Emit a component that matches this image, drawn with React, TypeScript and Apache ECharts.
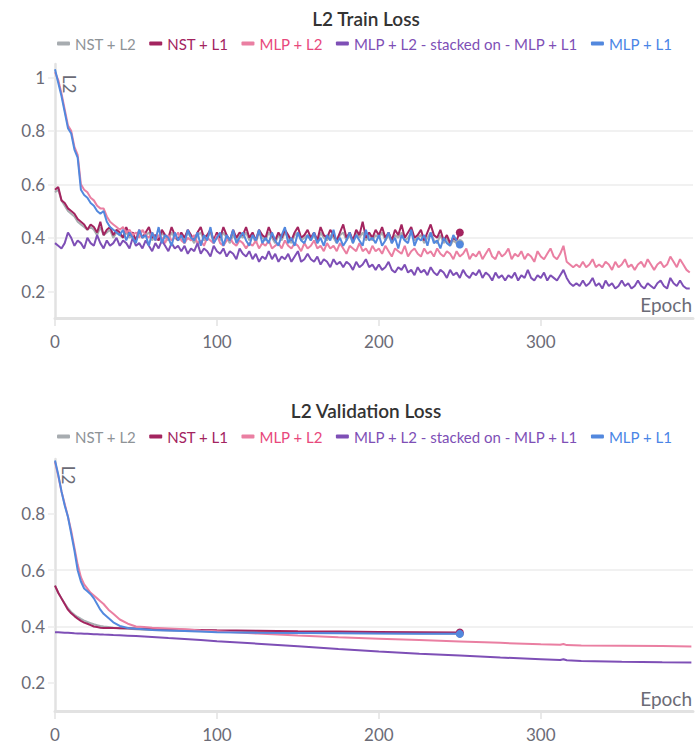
import React, { useEffect, useRef } from "react";
import * as echarts from "echarts";

// ---------- names & colours ----------
const SERIES_NAMES = [
  "NST + L2",
  "NST + L1",
  "MLP + L2",
  "MLP + L2 - stacked on - MLP + L1",
  "MLP + L1",
];
const LINE_COLORS = ["#a7acb0", "#a3245f", "#ea7fa2", "#7e4fb6", "#5288de"];
const TEXT_COLORS = ["#8e9397", "#a3245f", "#e8487c", "#7e4fb6", "#4a85e6"];

const TITLES = ["L2 Train Loss", "L2 Validation Loss"];
const X_TICKS = [0, 100, 200, 300];
const TRAIN_Y_TICKS = [0.2, 0.4, 0.6, 0.8, 1];
const VAL_Y_TICKS = [0.2, 0.4, 0.6, 0.8];
const X_NAME = "Epoch";
const Y_NAME = "L2";

// ---------- train loss (one value every 2 epochs) ----------
const TRAIN_STEP = 2;

const TRAIN_NST_L2 = [
  0.57, 0.58, 0.54, 0.52, 0.50, 0.49, 0.48, 0.46, 0.45, 0.44, 0.43, 0.44, 0.43, 0.41, 0.44, 0.41, 0.42, 0.43, 0.40, 0.42,
  0.41, 0.40, 0.42, 0.40, 0.41, 0.39, 0.42, 0.40, 0.41, 0.42, 0.39, 0.41, 0.39, 0.42, 0.40, 0.39, 0.42, 0.40, 0.39, 0.41,
  0.39, 0.42, 0.40, 0.38, 0.41, 0.42, 0.39, 0.40, 0.42, 0.38, 0.41, 0.39, 0.42, 0.40, 0.38, 0.41, 0.39, 0.41, 0.40, 0.42,
  0.39, 0.41, 0.38, 0.42, 0.40, 0.39, 0.42, 0.40, 0.38, 0.41, 0.39, 0.42, 0.40, 0.38, 0.41, 0.42, 0.39, 0.40, 0.41, 0.39,
  0.41, 0.38, 0.42, 0.40, 0.39, 0.41, 0.40, 0.38, 0.41, 0.42, 0.39, 0.41, 0.38, 0.42, 0.40, 0.42, 0.39, 0.41, 0.39, 0.41,
  0.40, 0.42, 0.39, 0.41, 0.38, 0.41, 0.40, 0.42, 0.39, 0.40, 0.42, 0.39, 0.40, 0.41, 0.38, 0.40, 0.42, 0.39, 0.38, 0.41,
  0.38, 0.40, 0.37, 0.39, 0.38, 0.38,
];

const TRAIN_NST_L1 = [
  0.58, 0.59, 0.54, 0.53, 0.51, 0.50, 0.49, 0.47, 0.46, 0.45, 0.43, 0.45, 0.44, 0.42, 0.46, 0.41, 0.43, 0.44, 0.41, 0.43,
  0.42, 0.40, 0.44, 0.41, 0.42, 0.39, 0.43, 0.40, 0.42, 0.44, 0.40, 0.41, 0.39, 0.43, 0.41, 0.40, 0.44, 0.41, 0.39, 0.42,
  0.40, 0.43, 0.41, 0.39, 0.42, 0.44, 0.40, 0.41, 0.43, 0.39, 0.42, 0.40, 0.44, 0.41, 0.39, 0.43, 0.40, 0.42, 0.41, 0.44,
  0.40, 0.42, 0.39, 0.43, 0.41, 0.40, 0.44, 0.41, 0.39, 0.42, 0.40, 0.43, 0.41, 0.39, 0.42, 0.44, 0.40, 0.41, 0.43, 0.40,
  0.42, 0.39, 0.44, 0.41, 0.40, 0.43, 0.41, 0.39, 0.42, 0.45, 0.40, 0.42, 0.39, 0.43, 0.41, 0.46, 0.40, 0.42, 0.40, 0.43,
  0.41, 0.44, 0.40, 0.42, 0.39, 0.43, 0.41, 0.45, 0.40, 0.42, 0.44, 0.40, 0.41, 0.43, 0.39, 0.42, 0.45, 0.41, 0.40, 0.43,
  0.39, 0.41, 0.38, 0.40, 0.39, 0.42,
];

const TRAIN_MLP_L2 = [
  1.02, 0.99, 0.94, 0.88, 0.82, 0.80, 0.74, 0.71, 0.60, 0.58, 0.57, 0.55, 0.54, 0.52, 0.51, 0.51, 0.48, 0.46, 0.45, 0.44,
  0.43, 0.44, 0.42, 0.43, 0.41, 0.42, 0.40, 0.43, 0.41, 0.40, 0.42, 0.39, 0.41, 0.40, 0.38, 0.41, 0.39, 0.40, 0.42, 0.39,
  0.38, 0.40, 0.39, 0.41, 0.38, 0.39, 0.37, 0.40, 0.39, 0.38, 0.41, 0.38, 0.37, 0.39, 0.40, 0.38, 0.37, 0.39, 0.38, 0.36,
  0.38, 0.37, 0.39, 0.36, 0.38, 0.37, 0.39, 0.36, 0.37, 0.38, 0.36, 0.39, 0.37, 0.36, 0.38, 0.37, 0.35, 0.38, 0.36, 0.37,
  0.39, 0.36, 0.37, 0.35, 0.38, 0.36, 0.37, 0.35, 0.38, 0.36, 0.34, 0.37, 0.36, 0.35, 0.38, 0.35, 0.36, 0.34, 0.37, 0.35,
  0.36, 0.34, 0.37, 0.35, 0.33, 0.36, 0.35, 0.34, 0.37, 0.33, 0.35, 0.36, 0.34, 0.33, 0.36, 0.34, 0.35, 0.33, 0.36, 0.34,
  0.33, 0.35, 0.34, 0.32, 0.35, 0.33, 0.34, 0.36, 0.32, 0.34, 0.33, 0.35, 0.32, 0.34, 0.36, 0.33, 0.32, 0.35, 0.33, 0.34,
  0.36, 0.32, 0.34, 0.33, 0.35, 0.32, 0.34, 0.33, 0.31, 0.35, 0.33, 0.32, 0.34, 0.36, 0.33, 0.32, 0.34, 0.37, 0.31, 0.30,
  0.29, 0.30, 0.29, 0.31, 0.29, 0.30, 0.32, 0.29, 0.30, 0.29, 0.31, 0.30, 0.28, 0.31, 0.29, 0.30, 0.32, 0.29, 0.30, 0.28,
  0.30, 0.31, 0.29, 0.32, 0.30, 0.28, 0.30, 0.31, 0.29, 0.30, 0.33, 0.31, 0.29, 0.32, 0.30, 0.28, 0.27,
];

const TRAIN_STACKED = [
  0.38, 0.37, 0.36, 0.38, 0.42, 0.40, 0.37, 0.39, 0.38, 0.36, 0.40, 0.38, 0.37, 0.41, 0.38, 0.36, 0.39, 0.37, 0.38, 0.40,
  0.37, 0.39, 0.38, 0.36, 0.40, 0.37, 0.38, 0.36, 0.39, 0.37, 0.35, 0.38, 0.36, 0.39, 0.37, 0.35, 0.38, 0.36, 0.37, 0.35,
  0.37, 0.34, 0.36, 0.35, 0.38, 0.34, 0.36, 0.35, 0.33, 0.37, 0.35, 0.34, 0.36, 0.33, 0.35, 0.34, 0.32, 0.36, 0.34, 0.33,
  0.35, 0.32, 0.34, 0.31, 0.33, 0.32, 0.35, 0.32, 0.34, 0.31, 0.33, 0.32, 0.34, 0.31, 0.33, 0.35, 0.31, 0.32, 0.34, 0.32,
  0.31, 0.33, 0.30, 0.32, 0.31, 0.29, 0.32, 0.30, 0.31, 0.29, 0.31, 0.30, 0.28, 0.31, 0.29, 0.30, 0.32, 0.29, 0.30, 0.28,
  0.30, 0.28, 0.29, 0.31, 0.28, 0.27, 0.29, 0.28, 0.30, 0.27, 0.28, 0.26, 0.29, 0.27, 0.28, 0.26, 0.29, 0.27, 0.26, 0.28,
  0.27, 0.25, 0.28, 0.26, 0.27, 0.25, 0.28, 0.26, 0.25, 0.27, 0.26, 0.28, 0.25, 0.27, 0.26, 0.24, 0.27, 0.25, 0.26, 0.24,
  0.26, 0.25, 0.27, 0.24, 0.26, 0.25, 0.28, 0.25, 0.24, 0.26, 0.25, 0.27, 0.24, 0.26, 0.25, 0.24, 0.26, 0.28, 0.25, 0.23,
  0.22, 0.23, 0.22, 0.24, 0.22, 0.23, 0.25, 0.22, 0.23, 0.21, 0.24, 0.22, 0.23, 0.21, 0.22, 0.24, 0.22, 0.23, 0.21, 0.22,
  0.24, 0.22, 0.21, 0.23, 0.22, 0.21, 0.23, 0.24, 0.22, 0.21, 0.25, 0.23, 0.22, 0.24, 0.22, 0.21, 0.21,
];

const TRAIN_MLP_L1 = [
  1.03, 0.98, 0.93, 0.87, 0.81, 0.79, 0.73, 0.70, 0.58, 0.56, 0.55, 0.53, 0.52, 0.50, 0.49, 0.50, 0.46, 0.44, 0.43, 0.42,
  0.41, 0.43, 0.39, 0.42, 0.40, 0.38, 0.43, 0.40, 0.41, 0.37, 0.42, 0.39, 0.44, 0.38, 0.41, 0.40, 0.37, 0.42, 0.39, 0.41,
  0.38, 0.43, 0.40, 0.39, 0.42, 0.37, 0.41, 0.39, 0.44, 0.38, 0.40, 0.42, 0.37, 0.41, 0.39, 0.43, 0.38, 0.40, 0.42, 0.39,
  0.37, 0.41, 0.39, 0.43, 0.38, 0.40, 0.38, 0.42, 0.39, 0.37, 0.41, 0.44, 0.38, 0.40, 0.37, 0.42, 0.39, 0.38, 0.41, 0.39,
  0.42, 0.38, 0.40, 0.37, 0.41, 0.39, 0.43, 0.38, 0.40, 0.37, 0.39, 0.42, 0.38, 0.41, 0.39, 0.37, 0.43, 0.39, 0.40, 0.38,
  0.41, 0.37, 0.39, 0.42, 0.38, 0.40, 0.36, 0.41, 0.39, 0.38, 0.43, 0.37, 0.40, 0.39, 0.41, 0.37, 0.42, 0.38, 0.39, 0.36,
  0.40, 0.38, 0.37, 0.41, 0.39, 0.375,
];

// ---------- validation loss ----------
const VAL_EPOCHS_SHORT = [
  0, 2, 4, 6, 8, 10, 12, 14, 16, 18, 20, 22, 24, 26, 28, 30, 33, 36, 40, 45, 50, 55, 60, 70, 80, 90, 100, 125, 150, 175,
  200, 225, 250,
];
const VAL_EPOCHS_LONG = [
  0, 2, 4, 6, 8, 10, 12, 14, 16, 18, 20, 22, 24, 26, 28, 30, 33, 36, 40, 45, 50, 55, 60, 70, 80, 90, 100, 125, 150, 175,
  200, 225, 250, 275, 300, 312, 314, 316, 325, 350, 375, 393,
];

const VAL_NST_L2 = [
  0.545, 0.52, 0.5, 0.482, 0.465, 0.452, 0.442, 0.434, 0.427, 0.421, 0.416, 0.412, 0.408, 0.405, 0.402, 0.4, 0.398,
  0.396, 0.394, 0.392, 0.39, 0.389, 0.388, 0.386, 0.384, 0.383, 0.382, 0.38, 0.378, 0.377, 0.376, 0.375, 0.374,
];
const VAL_NST_L1 = [
  0.545, 0.52, 0.5, 0.48, 0.46, 0.447, 0.437, 0.428, 0.42, 0.414, 0.41, 0.405, 0.4, 0.398, 0.396, 0.395, 0.395, 0.395,
  0.394, 0.394, 0.393, 0.392, 0.392, 0.39, 0.389, 0.388, 0.387, 0.385, 0.383, 0.382, 0.381, 0.38, 0.379,
];
const VAL_MLP_L2 = [
  0.985, 0.935, 0.88, 0.835, 0.79, 0.74, 0.68, 0.62, 0.575, 0.55, 0.535, 0.52, 0.51, 0.5, 0.49, 0.48, 0.46, 0.445,
  0.425, 0.41, 0.4, 0.398, 0.396, 0.393, 0.39, 0.386, 0.383, 0.375, 0.368, 0.362, 0.357, 0.352, 0.347, 0.342, 0.337,
  0.335, 0.338, 0.334, 0.333, 0.332, 0.331, 0.329,
];
const VAL_STACKED = [
  0.38, 0.3795, 0.379, 0.378, 0.3775, 0.377, 0.376, 0.3755, 0.375, 0.3745, 0.374, 0.3735, 0.373, 0.3725, 0.372, 0.3715,
  0.371, 0.37, 0.369, 0.3675, 0.366, 0.3645, 0.363, 0.359, 0.356, 0.352, 0.348, 0.339, 0.33, 0.32, 0.311, 0.303, 0.297,
  0.29, 0.284, 0.281, 0.284, 0.28, 0.278, 0.275, 0.273, 0.272,
];
const VAL_MLP_L1 = [
  0.99, 0.94, 0.88, 0.83, 0.79, 0.73, 0.67, 0.6, 0.56, 0.535, 0.525, 0.515, 0.5, 0.48, 0.46, 0.445, 0.43, 0.415, 0.402,
  0.395, 0.392, 0.39, 0.388, 0.386, 0.384, 0.382, 0.38, 0.378, 0.377, 0.376, 0.375, 0.374, 0.374,
];

const FONT = "Lato, 'Noto Sans', sans-serif";
const AXIS_TEXT = "#6b6b76";
const AXIS_LINE = "#e2e2e2";
const GRID_LINE = "#ededed";

function stepEpochs(n: number): number[] {
  return Array.from({ length: n }, (_, i) => i * TRAIN_STEP);
}

function lineSeries(
  idx: number,
  xs: number[],
  ys: number[],
  axisIndex: number,
  endDot: boolean
) {
  const last = ys.length - 1;
  return {
    type: "line",
    name: SERIES_NAMES[idx],
    xAxisIndex: axisIndex,
    yAxisIndex: axisIndex,
    symbol: "none",
    showSymbol: true,
    silent: true,
    lineStyle: { color: LINE_COLORS[idx], width: 2 },
    itemStyle: { color: LINE_COLORS[idx] },
    emphasis: { disabled: true },
    data: ys.map((v, i) =>
      endDot && i === last
        ? { value: [xs[i], v], symbol: "circle", symbolSize: 8 }
        : [xs[i], v]
    ),
  };
}

function xAxis(gridIndex: number) {
  return {
    type: "value",
    gridIndex,
    min: 0,
    max: 394,
    axisLine: { show: true, onZero: false, lineStyle: { color: AXIS_LINE, width: 3 } },
    axisTick: { show: true, length: 8, customValues: X_TICKS, lineStyle: { color: AXIS_LINE, width: 1.5 } },
    axisLabel: {
      customValues: X_TICKS,
      margin: 15,
      fontSize: 17,
      color: AXIS_TEXT,
      fontFamily: FONT,
    },
    splitLine: { show: false },
  };
}

function yAxis(gridIndex: number, max: number, ticks: number[]) {
  return {
    type: "value",
    gridIndex,
    min: 0.1,
    max,
    axisLine: { show: true, lineStyle: { color: AXIS_LINE, width: 2.5 } },
    axisTick: { show: true, length: 7, customValues: ticks, lineStyle: { color: GRID_LINE, width: 1.5 } },
    axisLabel: {
      customValues: ticks,
      margin: 10,
      fontSize: 17,
      color: AXIS_TEXT,
      fontFamily: FONT,
      formatter: (v: number) => String(Math.round(v * 10) / 10),
    },
    splitLine: {
      show: true,
      showMinLine: false,
      showMaxLine: false,
      lineStyle: { color: GRID_LINE, width: 1.5 },
    },
  };
}

function legend(top: number) {
  return {
    top,
    left: 57,
    orient: "horizontal",
    icon: "roundRect",
    itemWidth: 13,
    itemHeight: 4,
    itemGap: 13,
    padding: 0,
    selectedMode: false,
    textStyle: { fontSize: 15, fontFamily: FONT },
    data: SERIES_NAMES.map((name, i) => ({ name, textStyle: { color: TEXT_COLORS[i] } })),
  };
}

function textEl(text: string, x: number, y: number, size: number, opts: any = {}) {
  return {
    type: "text",
    x,
    y,
    silent: true,
    ...opts.el,
    style: {
      text,
      align: opts.align || "center",
      verticalAlign: "middle",
      fontSize: size,
      fontWeight: opts.weight || "normal",
      fill: opts.fill || AXIS_TEXT,
      fontFamily: FONT,
    },
  };
}

export default function App() {
  const ref = useRef<HTMLDivElement>(null);

  useEffect(() => {
    if (!ref.current) return;
    const chart = echarts.init(ref.current, undefined, { renderer: "svg" });

    const shortX = stepEpochs(TRAIN_MLP_L1.length);
    const longX = stepEpochs(TRAIN_MLP_L2.length);

    const option = {
      animation: false,
      backgroundColor: "#ffffff",
      textStyle: { fontFamily: FONT },
      legend: [legend(36), legend(429)],
      grid: [
        { left: 55, right: 2, top: 64, bottom: 428, containLabel: false },
        { left: 55, right: 2, top: 459, bottom: 35, containLabel: false },
      ],
      xAxis: [xAxis(0), xAxis(1)],
      yAxis: [yAxis(0, 1.05, TRAIN_Y_TICKS), yAxis(1, 0.995, VAL_Y_TICKS)],
      graphic: [
        textEl(TITLES[0], 366, 18, 19, { weight: 600, fill: "#333333" }),
        textEl(TITLES[1], 366, 410, 19, { weight: 600, fill: "#333333" }),
        textEl(X_NAME, 692, 304, 19, { align: "right" }),
        textEl(X_NAME, 692, 698, 19, { align: "right" }),
        textEl(Y_NAME, 69, 84, 17, { el: { rotation: -Math.PI / 2 } }),
        textEl(Y_NAME, 68, 475, 17, { el: { rotation: -Math.PI / 2 } }),
      ],
      series: [
        lineSeries(0, shortX, TRAIN_NST_L2, 0, true),
        lineSeries(1, shortX, TRAIN_NST_L1, 0, true),
        lineSeries(2, longX, TRAIN_MLP_L2, 0, false),
        lineSeries(3, longX, TRAIN_STACKED, 0, false),
        lineSeries(4, shortX, TRAIN_MLP_L1, 0, true),
        lineSeries(0, VAL_EPOCHS_SHORT, VAL_NST_L2, 1, true),
        lineSeries(1, VAL_EPOCHS_SHORT, VAL_NST_L1, 1, true),
        lineSeries(2, VAL_EPOCHS_LONG, VAL_MLP_L2, 1, false),
        lineSeries(3, VAL_EPOCHS_LONG, VAL_STACKED, 1, false),
        lineSeries(4, VAL_EPOCHS_SHORT, VAL_MLP_L1, 1, true),
      ],
    };

    chart.setOption(option as any);
    return () => chart.dispose();
  }, []);

  return (
    <div
      ref={ref}
      style={{ position: "absolute", left: 0, top: 0, width: 695, height: 746, background: "#fff" }}
    />
  );
}
